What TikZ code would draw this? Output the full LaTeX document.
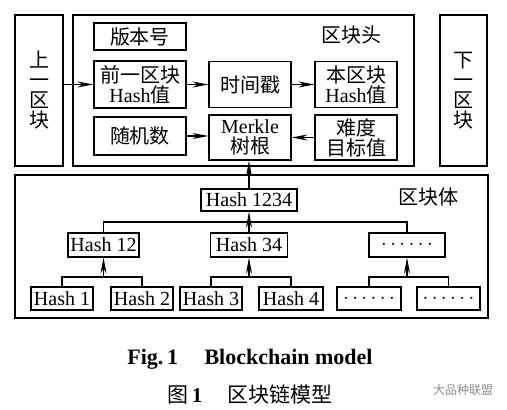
\documentclass[tikz,border=0pt]{standalone}
\usepackage{fontspec}
\setmainfont{Liberation Serif}
\newfontfamily\cjk{Noto Sans CJK SC}
\usepackage{tikz}
\usetikzlibrary{arrows.meta, calc}

\begin{document}
\begin{tikzpicture}[x=1pt,y=-1pt,>={Stealth[length=16pt,width=6pt]},line width=1.2pt,
			box/.style={draw,inner sep=0pt,align=center,font=\cjk\fontsize{20}{20}\selectfont},
			hash node/.style={draw,inner sep=0pt,minimum height=23pt,font=\fontsize{20}{20}\selectfont}]
			\useasboundingbox (0,0) rectangle (507,410);
			
			% frames
			\node[box,minimum width=48pt,minimum height=151pt] (prev) at (39,90.5) {上\\一\\区\\块};
			\node[box,minimum width=341pt,minimum height=151pt] (head) at (243.5,90.5) {};
			\node[box,minimum width=47pt,minimum height=151pt] (next) at (463.5,90.5) {下\\一\\区\\块};
			\node[box,minimum width=473pt,minimum height=143pt] (body) at (251.5,246.5) {};
			\node[font=\cjk\fontsize{20}{20}\selectfont] (headlbl) at (351,35) {区块头};
			\node[font=\cjk\fontsize{20}{20}\selectfont] (bodylbl) at (428,197) {区块体};
			
			% block header
			\node[box,minimum width=92pt,minimum height=27pt] (ver) at (140,36.5) {版本号};
			\node[box,minimum width=92pt,minimum height=47pt] (prevhash) at (140,84.5) {前一区块\\{\rmfamily Hash}值};
			\node[box,minimum width=82pt,minimum height=46pt] (stamp) at (250,84.5) {时间戳};
			\node[box,minimum width=82pt,minimum height=46pt] (cur) at (356,84.5) {本区块\\{\rmfamily Hash}值};
			\node[box,minimum width=92pt,minimum height=38pt] (nonce) at (140,136) {随机数};
			\node[box,minimum width=82pt,minimum height=45pt] (merkle) at (250,137.5) {{\rmfamily Merkle}\\树根};
			\node[box,minimum width=82pt,minimum height=45pt] (target) at (356,137.5) {难度\\目标值};
			
			\draw[->] (prevhash.west -| prev.east) -- (prevhash.west);
			\path[->] (prevhash) edge (stamp)
			(stamp) edge (cur)
			(target) edge (merkle);
			\draw[->] (nonce.east) -- (nonce.east -| merkle.west);
			
			% block body
			\node[hash node,minimum width=96pt,minimum height=22pt] (h1234) at (249,200) {Hash 1234};
			\node[hash node,minimum width=71pt,minimum height=24pt] (h12) at (103.5,245) {Hash 12};
			\node[hash node,minimum width=77pt,minimum height=24pt] (h34) at (249,245) {Hash 34};
			\node[hash node,minimum width=76pt,minimum height=24pt] (hd) at (407,245) {$\cdots\cdots$};
			\node[hash node,minimum width=62pt] (h1) at (62,298.5) {Hash 1};
			\node[hash node,minimum width=62pt] (h2) at (142,298.5) {Hash 2};
			\node[hash node,minimum width=62pt] (h3) at (211,298.5) {Hash 3};
			\node[hash node,minimum width=64pt] (h4) at (291,298.5) {Hash 4};
			\node[hash node,minimum width=64pt] (d1) at (369,298.5) {$\cdots\cdots$};
			\node[hash node,minimum width=63pt] (d2) at (448.5,298.5) {$\cdots\cdots$};
			
			\coordinate (j0) at (249,222);
			\coordinate (j1) at (103.5,277);
			\coordinate (j2) at (249,277);
			\coordinate (j3) at (407,277);
			
			\draw[->] (h1234.north) -- (h1234.north |- merkle.south);
			\draw (h12.north) |- (j0) -| (hd.north);
			\draw (h34.north) -- (j0);
			\draw[->] (j0) -- (h1234.south);
			\draw (h1.north) |- (j1) -| (h2.north);
			\draw[->] (j1) -- (h12.south);
			\draw (h3.north) |- (j2) -| (h4.north);
			\draw[->] (j2) -- (h34.south);
			\draw (d1.north) |- (j3) -| (d2.north);
			\draw[->] (j3) -- (hd.south);
			
			% captions
			\node[font=\fontsize{22}{22}\selectfont\bfseries] (cap) at (250,359) {Fig.\,1\hspace{1.2em}Blockchain model};
			\node[font=\fontsize{21}{21}\selectfont] (capcn) at (250,395) {{\cjk 图}\,\textbf{1}\hspace{1.2em}{\cjk 区块链模型}};
			\node[font=\cjk\fontsize{12}{12}\selectfont,text=black!45] (mark) at (463,390) {大品种联盟};
		\end{tikzpicture}
\end{document}
